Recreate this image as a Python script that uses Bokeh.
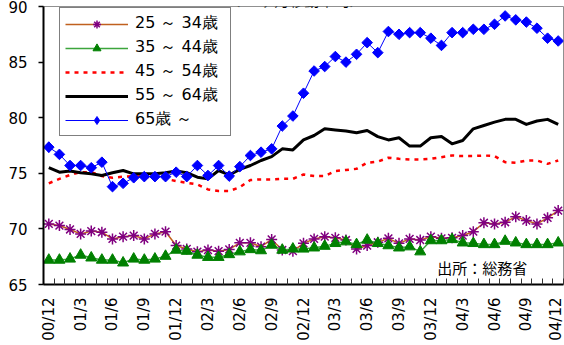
import math
from bokeh.plotting import figure
from bokeh.models import FixedTicker, Legend, LegendItem, Label
from bokeh.embed import file_html
from bokeh.resources import INLINE

# Monthly index: 2000/12 .. 2004/12 (12-month moving averages, %)
months = list(range(49))
tick_pos = list(range(0, 49, 3))
tick_labels = ["00/12", "01/3", "01/6", "01/9", "01/12", "02/3", "02/6", "02/9",
               "02/12", "03/3", "03/6", "03/9", "03/12", "04/3", "04/6", "04/9", "04/12"]

age_25_34 = [70.45, 70.3, 69.95, 69.55, 69.8, 69.7, 69.1, 69.3, 69.4, 69.1,
             69.55, 69.75, 68.5, 68.2, 67.95, 68.1, 68.0, 68.15, 68.75, 68.75,
             68.4, 69.05, 68.1, 68.0, 68.7, 69.1, 69.3, 69.2, 69.0, 68.2,
             68.5, 68.8, 69.15, 68.7, 69.1, 69.0, 69.3, 69.15, 69.2, 69.4,
             69.75, 70.55, 70.45, 70.6, 71.1, 70.75, 70.45, 71.0, 71.65]

age_35_44 = [67.2, 67.2, 67.3, 67.65, 67.4, 67.2, 67.2, 66.95, 67.3, 67.2,
             67.3, 67.55, 68.1, 68.0, 67.65, 67.45, 67.45, 67.7, 67.95, 68.15,
             68.05, 68.55, 68.1, 68.2, 68.2, 68.3, 68.45, 68.7, 68.85, 68.6,
             69.0, 68.7, 68.5, 68.3, 68.4, 67.95, 68.95, 68.95, 69.05, 68.75,
             68.7, 68.6, 68.6, 68.9, 68.75, 68.6, 68.6, 68.6, 68.75]

age_45_54 = [74.1, 74.5, 74.85, 75.1, 75.1, 74.75, 74.6, 74.7, 74.75, 74.7,
             74.6, 74.5, 74.3, 74.15, 74.0, 73.55, 73.4, 73.4, 73.75, 74.4,
             74.45, 74.45, 74.5, 74.5, 74.9, 74.75, 74.75, 75.2, 75.3, 75.4,
             75.95, 76.05, 76.4, 76.3, 76.25, 76.25, 76.3, 76.45, 76.6, 76.55,
             76.55, 76.6, 76.55, 76.0, 75.95, 76.15, 76.15, 75.85, 76.15]

age_55_64 = [75.5, 75.1, 75.2, 75.05, 74.95, 74.8, 75.05, 75.25, 74.95, 74.95,
             74.95, 75.05, 75.2, 75.05, 74.65, 74.5, 75.25, 74.85, 75.35, 75.7,
             76.15, 76.5, 77.2, 77.1, 78.0, 78.4, 79.0, 78.9, 78.8, 78.65,
             78.85, 78.3, 78.0, 78.2, 77.45, 77.45, 78.2, 78.3, 77.65, 77.95,
             79.0, 79.3, 79.6, 79.85, 79.85, 79.4, 79.7, 79.85, 79.4]

age_65_up = [77.35, 76.7, 75.7, 75.7, 75.5, 76.0, 73.8, 74.1, 74.6, 74.7,
             74.7, 74.7, 75.1, 74.7, 75.7, 74.8, 75.7, 74.75, 75.6, 76.6,
             76.9, 77.2, 79.25, 80.15, 82.2, 84.2, 84.6, 85.5, 85.0, 85.7,
             86.75, 85.85, 87.75, 87.5, 87.65, 87.65, 87.15, 86.5, 87.65, 87.65,
             87.95, 87.95, 88.4, 89.15, 88.8, 88.6, 88.05, 87.15, 86.9]

series_names = ["25 ～ 34歳", "35 ～ 44歳", "45 ～ 54歳", "55 ～ 64歳", "65歳 ～"]

FONT = "DejaVu Sans, Noto Sans CJK JP"

p = figure(width=564, height=345, x_range=(-0.5, 48.5), y_range=(65, 90),
           output_backend="svg", toolbar_location=None,
           min_border_left=43, min_border_right=1, min_border_top=6,
           min_border_bottom=61)
p.xgrid.visible = False
p.ygrid.visible = False
p.outline_line_color = "#909090"
p.outline_line_width = 1
p.background_fill_color = "white"
p.border_fill_color = "white"

# Category axis: labels every quarter, tick marks between months
xa = p.xaxis[0]
xa.ticker = FixedTicker(ticks=tick_pos, minor_ticks=[m - 0.5 for m in range(50)])
xa.major_label_overrides = {t: lab for t, lab in zip(tick_pos, tick_labels)}
xa.major_label_orientation = math.pi / 2
xa.major_tick_in = 0
xa.major_tick_out = 0
xa.minor_tick_in = 6
xa.minor_tick_out = 0
xa.minor_tick_line_color = "#333333"
xa.minor_tick_line_width = 1
xa.major_label_standoff = 13
xa.axis_line_width = 2
xa.axis_line_color = "black"
xa.major_label_text_font = FONT
xa.major_label_text_font_size = "15px"
xa.major_label_text_color = "black"

ya = p.yaxis[0]
ya.ticker = FixedTicker(ticks=[65, 70, 75, 80, 85, 90])
ya.minor_tick_line_color = None
ya.major_tick_in = 0
ya.major_tick_out = 5
ya.major_tick_line_width = 1.5
ya.major_label_standoff = 11
ya.axis_line_width = 2
ya.axis_line_color = "black"
ya.major_label_text_font = FONT
ya.major_label_text_font_size = "15px"
ya.major_label_text_color = "black"

r1l = p.line(months, age_25_34, line_color="#C0601E", line_width=1.5)
r1m = p.scatter(months, age_25_34, marker="asterisk", size=11,
                line_color="#800080", line_width=1.5)
r2l = p.line(months, age_35_44, line_color="#3CA53C", line_width=1.5)
r2m = p.scatter(months, age_35_44, marker="triangle", size=11,
                fill_color="#008000", line_color="#008000")
r3 = p.line(months, age_45_54, line_color="#FF0000", line_width=2.5,
            line_dash="4 5")
r4 = p.line(months, age_55_64, line_color="black", line_width=3,
            line_join="round")
r5l = p.line(months, age_65_up, line_color="#0000FF", line_width=1)
# diamond swatch used by the legend; sits under the first 65+ marker
r5k = p.scatter(months[:1], age_65_up[:1], marker="diamond", size=10.5,
                fill_color="#0000FF", line_color="#0000FF")
r5m = p.scatter(months, age_65_up, marker="square", size=7.5, angle=math.pi / 4,
                fill_color="#0000FF", line_color="#0000FF")

legend = Legend(items=[
    LegendItem(label=series_names[0], renderers=[r1l, r1m]),
    LegendItem(label=series_names[1], renderers=[r2l, r2m]),
    LegendItem(label=series_names[2], renderers=[r3]),
    LegendItem(label=series_names[3], renderers=[r4]),
    LegendItem(label=series_names[4], renderers=[r5l, r5k]),
], location=(16, 148))
legend.glyph_width = 63
legend.glyph_height = 20
legend.label_height = 20
legend.label_width = 90
legend.spacing = 3
legend.padding = 5
legend.margin = 0
legend.label_standoff = 7
legend.label_text_font = "DejaVu Sans"
legend.label_text_font_size = "16px"
legend.label_text_color = "black"
legend.border_line_color = "black"
legend.border_line_width = 1
legend.background_fill_color = "white"
legend.background_fill_alpha = 1
p.add_layout(legend)

p.add_layout(Label(x=36.6, y=66.35, text="出所：総務省", text_font=FONT,
                   text_font_size="15px", text_baseline="middle",
                   text_align="left", text_color="black"))

p.add_layout(Label(x=23.2, y=90.45, text="（12ヶ月移動平均）", text_font=FONT,
                   text_font_size="15px", text_baseline="alphabetic",
                   text_align="center", text_color="black"))

open("out.html", "w").write(file_html(p, INLINE))
